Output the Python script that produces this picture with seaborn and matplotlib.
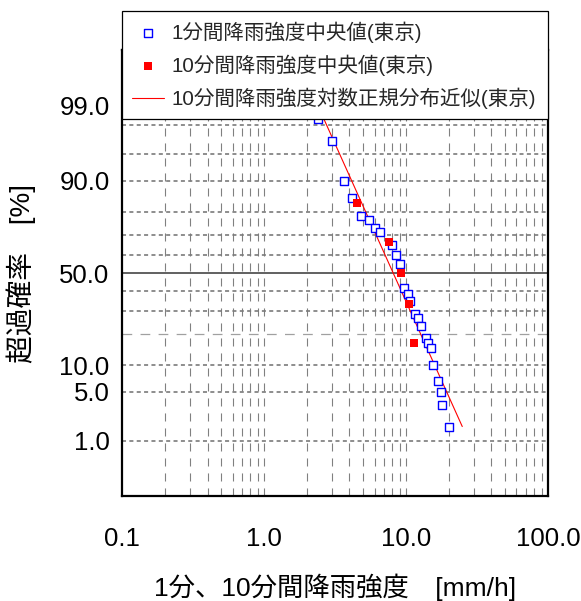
import numpy as np
import seaborn as sns
import matplotlib.pyplot as plt
from matplotlib.ticker import NullLocator
from statistics import NormalDist

# 1分間降雨強度中央値(東京): intensity [mm/h] and exceedance probability [%]
one_min_x = [2.41, 3.03, 3.64, 4.19, 4.84, 5.46, 6.07, 6.61, 7.93, 8.44,
             9.03, 9.73, 10.28, 10.72, 11.52, 12.15, 12.69, 13.76, 14.35,
             15.00, 15.57, 16.89, 17.64, 18.01, 19.93]
one_min_p = [98.33, 96.67, 90.0, 85.0, 78.33, 76.67, 73.33, 71.67, 65.0, 60.0,
             55.0, 41.67, 38.33, 35.0, 28.33, 26.67, 23.33, 18.33, 16.67,
             15.0, 10.0, 6.67, 5.0, 3.33, 1.67]

# 10分間降雨強度中央値(東京)
ten_min_x = [4.54, 7.62, 9.18, 10.55, 11.44]
ten_min_p = [83.33, 66.67, 50.0, 33.33, 16.67]

# lognormal fit line end points (straight on probability paper)
fit_x = [2.65, 24.9]
fit_p = [98.33, 1.67]

x_ticks = [0.1, 1, 10, 100]
x_tick_labels = ["0.1", "1.0", "10.0", "100.0"]
y_ticks = [1, 5, 10, 50, 90, 99]

grid_p_dotted = [1, 5, 10, 30, 40, 60, 70, 80, 90, 95, 98, 99]
grid_p_dashed = [20]
grid_p_solid = [50]
grid_x = [0.2, 0.3, 0.4, 0.5, 0.6, 0.7, 0.8, 0.9, 1, 2, 3, 4, 5, 6, 7, 8, 9,
          10, 20, 30, 40, 50, 60, 70, 80, 90]

labels = ["1分間降雨強度中央値(東京)",
          "10分間降雨強度中央値(東京)",
          "10分間降雨強度対数正規分布近似(東京)"]

_nd = NormalDist()


def prob_to_z(p):
    p = np.clip(np.asarray(p, dtype=float), 1e-6, 100 - 1e-6)
    return np.vectorize(lambda v: _nd.inv_cdf(v / 100.0), otypes=[float])(p)


def z_to_prob(z):
    z = np.clip(np.asarray(z, dtype=float), -10, 10)
    return np.vectorize(lambda v: _nd.cdf(v) * 100.0, otypes=[float])(z)


sns.set_theme(style="white")
plt.rcParams["font.family"] = ["Liberation Sans", "Noto Sans CJK JP"]
plt.rcParams["lines.scale_dashes"] = False

fig = plt.figure(figsize=(5.81, 6.01), dpi=100)
ax = fig.add_axes([0.2100, 0.1747, 0.7332, 0.7421])

sns.scatterplot(x=one_min_x, y=one_min_p, marker="s", s=26,
                facecolor="white", edgecolor="#0000ff", linewidth=1.0,
                label=labels[0], zorder=4, ax=ax)
sns.scatterplot(x=ten_min_x, y=ten_min_p, marker="s", s=40,
                color="#ff0000", linewidth=0, label=labels[1], zorder=5, ax=ax)
sns.lineplot(x=fit_x, y=fit_p, color="#ff0000", linewidth=0.8,
             label=labels[2], zorder=3, ax=ax)

ax.set_xscale("log")
ax.set_yscale("function", functions=(prob_to_z, z_to_prob))
ax.set_xlim(0.1, 100)
ax.set_ylim(0.1, 99.9)

# grid
for gx in grid_x:
    ax.axvline(gx, color="#808080", lw=0.8, ls=(0, (5.8, 5.0)), zorder=1)
for gp in grid_p_dotted:
    ax.axhline(gp, color="#7a7a7a", lw=1.2, ls=(0, (2.9, 2.4)), zorder=1)
for gp in grid_p_dashed:
    ax.axhline(gp, color="#a0a0a0", lw=0.9, ls=(0, (7, 6)), zorder=1)
for gp in grid_p_solid:
    ax.axhline(gp, color="#606060", lw=1.4, zorder=1)

ax.set_xticks(x_ticks, labels=x_tick_labels)
ax.set_yticks(y_ticks, labels=[f"{v:.1f}" for v in y_ticks])
ax.xaxis.set_minor_locator(NullLocator())
ax.yaxis.set_minor_locator(NullLocator())
ax.tick_params(axis="both", length=0, labelsize=18.5, colors="black")
ax.tick_params(axis="x", pad=22)
ax.tick_params(axis="y", pad=9)

ax.set_xlabel("1分、10分間降雨強度　[mm/h]", fontsize=19, color="black")
ax.set_ylabel("超過確率　[%]", fontsize=20, color="black")
ax.xaxis.label.set_va("center")
ax.yaxis.label.set_va("center")
ax.xaxis.set_label_coords(0.5, -0.204)
ax.yaxis.set_label_coords(-0.237, 0.5)

for side in ["left", "bottom", "right", "top"]:
    ax.spines[side].set_color("black")
    ax.spines[side].set_linewidth(1.6)
ax.spines["top"].set_zorder(0)

handles, hlabels = ax.get_legend_handles_labels()
order = [hlabels.index(l) for l in labels]
leg = ax.legend([handles[i] for i in order], [hlabels[i] for i in order],
                loc="upper left", bbox_to_anchor=(0.210, 0.8037, 0.7332, 0.178),
                bbox_transform=fig.transFigure, mode="expand", borderaxespad=0,
                fontsize=14.8, frameon=True, fancybox=False, framealpha=1,
                edgecolor="black", borderpad=0.5, labelspacing=0.57,
                handlelength=1.55, handletextpad=0.35)
leg.get_frame().set_linewidth(0.9)
leg.set_zorder(10)

fig.savefig("out.png", dpi=100)
